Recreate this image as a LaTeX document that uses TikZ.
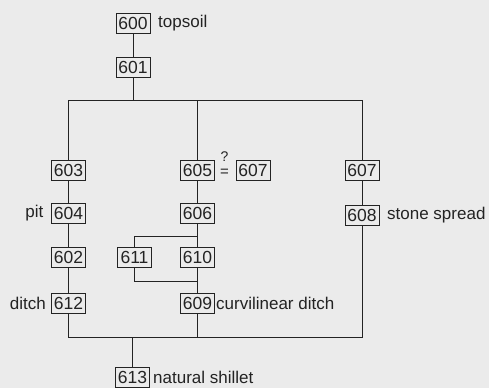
\documentclass[tikz,border=0pt]{standalone}
\usepackage{fontspec}
\setmainfont{Liberation Sans}
\definecolor{bg}{RGB}{235,235,235}
\definecolor{ink}{RGB}{35,35,35}
\tikzset{
  ctx/.style={draw=ink, line width=0.9pt, minimum width=34pt, minimum height=20pt, inner sep=0pt, text=ink, font=\fontsize{17.5}{20}\selectfont},
  lab/.style={inner sep=0pt, text=ink, font=\fontsize{17}{20}\selectfont},
  link/.style={draw=ink, line width=0.9pt}
}
\begin{document}
\begin{tikzpicture}[x=1pt,y=-1pt]
\fill[bg] (0,0) rectangle (489,388);
\useasboundingbox (0,0) rectangle (489,388);
% nodes
\node[ctx] (n600) at (133,23) {600};
\node[ctx] (n601) at (133,67) {601};
\node[ctx] (n603) at (68.5,170) {603};
\node[ctx] (n605) at (197.5,170) {605};
\node[ctx] (n607a) at (253,170) {607};
\node[ctx] (n607b) at (362,170) {607};
\node[ctx] (n604) at (68.5,213.5) {604};
\node[ctx] (n606) at (197.5,213.5) {606};
\node[ctx] (n608) at (362,215) {608};
\node[ctx] (n602) at (68.5,257.5) {602};
\node[ctx] (n611) at (134.5,257.5) {611};
\node[ctx] (n610) at (197.5,257.5) {610};
\node[ctx] (n612) at (68.5,303) {612};
\node[ctx] (n609) at (197.5,303) {609};
\node[ctx] (n613) at (132.5,377) {613};
% labels
\node[lab, anchor=west] (l600) at (158,23) {topsoil};
\node[lab, anchor=east] (l604) at (43.5,213.5) {pit};
\node[lab, anchor=east] (l612) at (46,303) {ditch};
\node[lab, anchor=west] (l608) at (387,215) {stone spread};
\node[lab, anchor=west] (l609) at (216,303) {curvilinear ditch};
\node[lab, anchor=west] (l613) at (153,377) {natural shillet};
\node[inner sep=0pt, text=ink, font=\fontsize{14}{16}\selectfont] (q) at (224.5,157) {?};
\node[inner sep=0pt, text=ink, font=\fontsize{15}{16}\selectfont] (eq) at (224.5,172.5) {=};
% junction levels
\coordinate (t) at (0,100);
\coordinate (b) at (0,337);
\coordinate (lt) at (0,236);
\coordinate (lb) at (0,281);
% connectors
\draw[link] (n600) -- (n601);
\draw[link] (n601) -- (n601|-t);
\draw[link] (n603) -- (n603|-t) -- (n607b|-t) -- (n607b);
\draw[link] (n605) -- (n605|-t);
\draw[link] (n603) -- (n604);
\draw[link] (n604) -- (n602);
\draw[link] (n602) -- (n612);
\draw[link] (n605) -- (n606);
\draw[link] (n606) -- (n610);
\draw[link] (n610) -- (n609);
\draw[link] (n607b) -- (n608);
\draw[link] (n611) -- (n611|-lt) -- (n606|-lt);
\draw[link] (n611) -- (n611|-lb) -- (n610|-lb);
\draw[link] (n612) -- (n612|-b) -- (n608|-b) -- (n608);
\draw[link] (n609) -- (n609|-b);
\draw[link] (n613) -- (n613|-b);
\end{tikzpicture}
\end{document}
